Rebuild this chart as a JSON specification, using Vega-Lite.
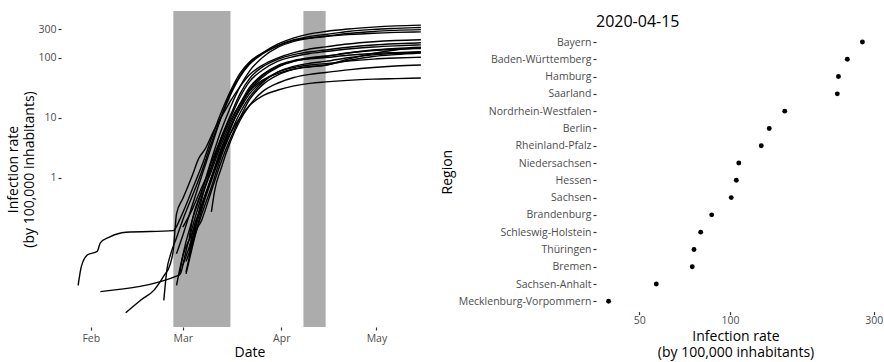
{
  "$schema": "https://vega.github.io/schema/vega-lite/v6.json",
  "background": "white",
  "padding": {"left": 6, "top": 11, "right": 2, "bottom": 2},
  "spacing": 2,
  "config": {
    "view": {"stroke": null},
    "font": "Open Sans",
    "title": {"fontSize": 16, "fontWeight": "normal", "color": "#000000"},
    "axis": {"grid": false, "domain": false, "tickColor": "#333333", "tickSize": 3, "tickWidth": 1.2, "labelColor": "#4d4d4d", "labelFontSize": 10.5, "titleFontSize": 14, "titleFontWeight": "normal", "titleColor": "#000000", "labelPadding": 2, "titlePadding": 4}
  },
  "datasets": {
    "periods": [
      {"date": "2020-02-27", "date2": "2020-03-16"},
      {"date": "2020-04-08", "date2": "2020-04-15"}
    ],
    "lines": [
      {"region": "Bayern", "date": "2020-01-28", "rate": 0.016},
      {"region": "Bayern", "date": "2020-01-29", "rate": 0.033},
      {"region": "Bayern", "date": "2020-01-31", "rate": 0.052},
      {"region": "Bayern", "date": "2020-02-03", "rate": 0.059},
      {"region": "Bayern", "date": "2020-02-04", "rate": 0.082},
      {"region": "Bayern", "date": "2020-02-07", "rate": 0.103},
      {"region": "Bayern", "date": "2020-02-12", "rate": 0.123},
      {"region": "Bayern", "date": "2020-02-27", "rate": 0.131},
      {"region": "Bayern", "date": "2020-02-29", "rate": 0.2},
      {"region": "Bayern", "date": "2020-03-02", "rate": 0.35},
      {"region": "Bayern", "date": "2020-03-04", "rate": 0.65},
      {"region": "Bayern", "date": "2020-03-07", "rate": 1.6},
      {"region": "Bayern", "date": "2020-03-10", "rate": 4.5},
      {"region": "Bayern", "date": "2020-03-13", "rate": 12},
      {"region": "Bayern", "date": "2020-03-16", "rate": 28},
      {"region": "Bayern", "date": "2020-03-19", "rate": 55},
      {"region": "Bayern", "date": "2020-03-22", "rate": 85},
      {"region": "Bayern", "date": "2020-03-26", "rate": 120},
      {"region": "Bayern", "date": "2020-03-31", "rate": 170},
      {"region": "Bayern", "date": "2020-04-05", "rate": 215},
      {"region": "Bayern", "date": "2020-04-10", "rate": 250},
      {"region": "Bayern", "date": "2020-04-15", "rate": 275},
      {"region": "Bayern", "date": "2020-04-22", "rate": 302},
      {"region": "Bayern", "date": "2020-04-30", "rate": 325},
      {"region": "Bayern", "date": "2020-05-07", "rate": 340},
      {"region": "Bayern", "date": "2020-05-15", "rate": 350},

      {"region": "Baden-Württemberg", "date": "2020-02-24", "rate": 0.009},
      {"region": "Baden-Württemberg", "date": "2020-02-25", "rate": 0.03},
      {"region": "Baden-Württemberg", "date": "2020-02-26", "rate": 0.05},
      {"region": "Baden-Württemberg", "date": "2020-02-28", "rate": 0.1},
      {"region": "Baden-Württemberg", "date": "2020-03-01", "rate": 0.2},
      {"region": "Baden-Württemberg", "date": "2020-03-04", "rate": 0.5},
      {"region": "Baden-Württemberg", "date": "2020-03-07", "rate": 1.3},
      {"region": "Baden-Württemberg", "date": "2020-03-10", "rate": 3.8},
      {"region": "Baden-Württemberg", "date": "2020-03-13", "rate": 10},
      {"region": "Baden-Württemberg", "date": "2020-03-16", "rate": 24},
      {"region": "Baden-Württemberg", "date": "2020-03-19", "rate": 48},
      {"region": "Baden-Württemberg", "date": "2020-03-22", "rate": 78},
      {"region": "Baden-Württemberg", "date": "2020-03-26", "rate": 115},
      {"region": "Baden-Württemberg", "date": "2020-03-31", "rate": 160},
      {"region": "Baden-Württemberg", "date": "2020-04-05", "rate": 200},
      {"region": "Baden-Württemberg", "date": "2020-04-10", "rate": 228},
      {"region": "Baden-Württemberg", "date": "2020-04-15", "rate": 245},
      {"region": "Baden-Württemberg", "date": "2020-04-22", "rate": 275},
      {"region": "Baden-Württemberg", "date": "2020-04-30", "rate": 298},
      {"region": "Baden-Württemberg", "date": "2020-05-07", "rate": 310},
      {"region": "Baden-Württemberg", "date": "2020-05-15", "rate": 320},

      {"region": "Hamburg", "date": "2020-02-28", "rate": 0.054},
      {"region": "Hamburg", "date": "2020-03-01", "rate": 0.11},
      {"region": "Hamburg", "date": "2020-03-04", "rate": 0.35},
      {"region": "Hamburg", "date": "2020-03-07", "rate": 1.1},
      {"region": "Hamburg", "date": "2020-03-10", "rate": 3.3},
      {"region": "Hamburg", "date": "2020-03-13", "rate": 10},
      {"region": "Hamburg", "date": "2020-03-16", "rate": 26},
      {"region": "Hamburg", "date": "2020-03-19", "rate": 50},
      {"region": "Hamburg", "date": "2020-03-22", "rate": 82},
      {"region": "Hamburg", "date": "2020-03-26", "rate": 118},
      {"region": "Hamburg", "date": "2020-03-31", "rate": 160},
      {"region": "Hamburg", "date": "2020-04-05", "rate": 195},
      {"region": "Hamburg", "date": "2020-04-10", "rate": 215},
      {"region": "Hamburg", "date": "2020-04-15", "rate": 229},
      {"region": "Hamburg", "date": "2020-04-22", "rate": 254},
      {"region": "Hamburg", "date": "2020-04-30", "rate": 275},
      {"region": "Hamburg", "date": "2020-05-07", "rate": 287},
      {"region": "Hamburg", "date": "2020-05-15", "rate": 295},

      {"region": "Saarland", "date": "2020-03-03", "rate": 0.1},
      {"region": "Saarland", "date": "2020-03-04", "rate": 0.2},
      {"region": "Saarland", "date": "2020-03-07", "rate": 0.6},
      {"region": "Saarland", "date": "2020-03-10", "rate": 2},
      {"region": "Saarland", "date": "2020-03-13", "rate": 6},
      {"region": "Saarland", "date": "2020-03-16", "rate": 15},
      {"region": "Saarland", "date": "2020-03-19", "rate": 33},
      {"region": "Saarland", "date": "2020-03-22", "rate": 60},
      {"region": "Saarland", "date": "2020-03-26", "rate": 100},
      {"region": "Saarland", "date": "2020-03-31", "rate": 150},
      {"region": "Saarland", "date": "2020-04-05", "rate": 188},
      {"region": "Saarland", "date": "2020-04-10", "rate": 212},
      {"region": "Saarland", "date": "2020-04-15", "rate": 227},
      {"region": "Saarland", "date": "2020-04-22", "rate": 243},
      {"region": "Saarland", "date": "2020-04-30", "rate": 257},
      {"region": "Saarland", "date": "2020-05-07", "rate": 265},
      {"region": "Saarland", "date": "2020-05-15", "rate": 270},

      {"region": "Nordrhein-Westfalen", "date": "2020-02-12", "rate": 0.0056},
      {"region": "Nordrhein-Westfalen", "date": "2020-02-17", "rate": 0.0093},
      {"region": "Nordrhein-Westfalen", "date": "2020-02-21", "rate": 0.0135},
      {"region": "Nordrhein-Westfalen", "date": "2020-02-24", "rate": 0.023},
      {"region": "Nordrhein-Westfalen", "date": "2020-02-26", "rate": 0.036},
      {"region": "Nordrhein-Westfalen", "date": "2020-02-27", "rate": 0.063},
      {"region": "Nordrhein-Westfalen", "date": "2020-02-28", "rate": 0.25},
      {"region": "Nordrhein-Westfalen", "date": "2020-03-01", "rate": 0.45},
      {"region": "Nordrhein-Westfalen", "date": "2020-03-02", "rate": 0.6},
      {"region": "Nordrhein-Westfalen", "date": "2020-03-04", "rate": 1.1},
      {"region": "Nordrhein-Westfalen", "date": "2020-03-06", "rate": 2.1},
      {"region": "Nordrhein-Westfalen", "date": "2020-03-08", "rate": 3.0},
      {"region": "Nordrhein-Westfalen", "date": "2020-03-11", "rate": 6.5},
      {"region": "Nordrhein-Westfalen", "date": "2020-03-13", "rate": 10},
      {"region": "Nordrhein-Westfalen", "date": "2020-03-16", "rate": 19},
      {"region": "Nordrhein-Westfalen", "date": "2020-03-19", "rate": 33},
      {"region": "Nordrhein-Westfalen", "date": "2020-03-22", "rate": 52},
      {"region": "Nordrhein-Westfalen", "date": "2020-03-26", "rate": 75},
      {"region": "Nordrhein-Westfalen", "date": "2020-03-31", "rate": 100},
      {"region": "Nordrhein-Westfalen", "date": "2020-04-05", "rate": 122},
      {"region": "Nordrhein-Westfalen", "date": "2020-04-10", "rate": 140},
      {"region": "Nordrhein-Westfalen", "date": "2020-04-15", "rate": 152},
      {"region": "Nordrhein-Westfalen", "date": "2020-04-22", "rate": 170},
      {"region": "Nordrhein-Westfalen", "date": "2020-04-30", "rate": 185},
      {"region": "Nordrhein-Westfalen", "date": "2020-05-07", "rate": 194},
      {"region": "Nordrhein-Westfalen", "date": "2020-05-15", "rate": 200},

      {"region": "Berlin", "date": "2020-03-02", "rate": 0.027},
      {"region": "Berlin", "date": "2020-03-04", "rate": 0.08},
      {"region": "Berlin", "date": "2020-03-07", "rate": 0.45},
      {"region": "Berlin", "date": "2020-03-10", "rate": 1.5},
      {"region": "Berlin", "date": "2020-03-13", "rate": 4.5},
      {"region": "Berlin", "date": "2020-03-16", "rate": 11},
      {"region": "Berlin", "date": "2020-03-19", "rate": 25},
      {"region": "Berlin", "date": "2020-03-22", "rate": 45},
      {"region": "Berlin", "date": "2020-03-26", "rate": 70},
      {"region": "Berlin", "date": "2020-03-31", "rate": 95},
      {"region": "Berlin", "date": "2020-04-05", "rate": 113},
      {"region": "Berlin", "date": "2020-04-10", "rate": 126},
      {"region": "Berlin", "date": "2020-04-15", "rate": 135},
      {"region": "Berlin", "date": "2020-04-22", "rate": 150},
      {"region": "Berlin", "date": "2020-04-30", "rate": 163},
      {"region": "Berlin", "date": "2020-05-07", "rate": 171},
      {"region": "Berlin", "date": "2020-05-15", "rate": 178},

      {"region": "Rheinland-Pfalz", "date": "2020-02-29", "rate": 0.025},
      {"region": "Rheinland-Pfalz", "date": "2020-03-01", "rate": 0.05},
      {"region": "Rheinland-Pfalz", "date": "2020-03-04", "rate": 0.2},
      {"region": "Rheinland-Pfalz", "date": "2020-03-07", "rate": 0.6},
      {"region": "Rheinland-Pfalz", "date": "2020-03-10", "rate": 1.8},
      {"region": "Rheinland-Pfalz", "date": "2020-03-13", "rate": 4.5},
      {"region": "Rheinland-Pfalz", "date": "2020-03-16", "rate": 10},
      {"region": "Rheinland-Pfalz", "date": "2020-03-19", "rate": 22},
      {"region": "Rheinland-Pfalz", "date": "2020-03-22", "rate": 40},
      {"region": "Rheinland-Pfalz", "date": "2020-03-26", "rate": 62},
      {"region": "Rheinland-Pfalz", "date": "2020-03-31", "rate": 88},
      {"region": "Rheinland-Pfalz", "date": "2020-04-05", "rate": 105},
      {"region": "Rheinland-Pfalz", "date": "2020-04-10", "rate": 118},
      {"region": "Rheinland-Pfalz", "date": "2020-04-15", "rate": 127},
      {"region": "Rheinland-Pfalz", "date": "2020-04-22", "rate": 140},
      {"region": "Rheinland-Pfalz", "date": "2020-04-30", "rate": 151},
      {"region": "Rheinland-Pfalz", "date": "2020-05-07", "rate": 158},
      {"region": "Rheinland-Pfalz", "date": "2020-05-15", "rate": 164},

      {"region": "Niedersachsen", "date": "2020-02-04", "rate": 0.0126},
      {"region": "Niedersachsen", "date": "2020-02-29", "rate": 0.024},
      {"region": "Niedersachsen", "date": "2020-03-02", "rate": 0.06},
      {"region": "Niedersachsen", "date": "2020-03-04", "rate": 0.15},
      {"region": "Niedersachsen", "date": "2020-03-07", "rate": 0.5},
      {"region": "Niedersachsen", "date": "2020-03-10", "rate": 1.3},
      {"region": "Niedersachsen", "date": "2020-03-13", "rate": 3.5},
      {"region": "Niedersachsen", "date": "2020-03-16", "rate": 8},
      {"region": "Niedersachsen", "date": "2020-03-19", "rate": 17},
      {"region": "Niedersachsen", "date": "2020-03-22", "rate": 32},
      {"region": "Niedersachsen", "date": "2020-03-26", "rate": 52},
      {"region": "Niedersachsen", "date": "2020-03-31", "rate": 75},
      {"region": "Niedersachsen", "date": "2020-04-05", "rate": 90},
      {"region": "Niedersachsen", "date": "2020-04-10", "rate": 100},
      {"region": "Niedersachsen", "date": "2020-04-15", "rate": 107},
      {"region": "Niedersachsen", "date": "2020-04-22", "rate": 120},
      {"region": "Niedersachsen", "date": "2020-04-30", "rate": 132},
      {"region": "Niedersachsen", "date": "2020-05-07", "rate": 138},
      {"region": "Niedersachsen", "date": "2020-05-15", "rate": 143},

      {"region": "Hessen", "date": "2020-02-28", "rate": 0.016},
      {"region": "Hessen", "date": "2020-03-01", "rate": 0.05},
      {"region": "Hessen", "date": "2020-03-04", "rate": 0.12},
      {"region": "Hessen", "date": "2020-03-07", "rate": 0.35},
      {"region": "Hessen", "date": "2020-03-10", "rate": 1.0},
      {"region": "Hessen", "date": "2020-03-13", "rate": 2.8},
      {"region": "Hessen", "date": "2020-03-16", "rate": 7},
      {"region": "Hessen", "date": "2020-03-19", "rate": 15},
      {"region": "Hessen", "date": "2020-03-22", "rate": 28},
      {"region": "Hessen", "date": "2020-03-26", "rate": 47},
      {"region": "Hessen", "date": "2020-03-31", "rate": 70},
      {"region": "Hessen", "date": "2020-04-05", "rate": 87},
      {"region": "Hessen", "date": "2020-04-10", "rate": 98},
      {"region": "Hessen", "date": "2020-04-15", "rate": 105},
      {"region": "Hessen", "date": "2020-04-22", "rate": 120},
      {"region": "Hessen", "date": "2020-04-30", "rate": 135},
      {"region": "Hessen", "date": "2020-05-07", "rate": 143},
      {"region": "Hessen", "date": "2020-05-15", "rate": 150},

      {"region": "Sachsen", "date": "2020-03-02", "rate": 0.025},
      {"region": "Sachsen", "date": "2020-03-04", "rate": 0.07},
      {"region": "Sachsen", "date": "2020-03-07", "rate": 0.3},
      {"region": "Sachsen", "date": "2020-03-10", "rate": 0.9},
      {"region": "Sachsen", "date": "2020-03-13", "rate": 2.5},
      {"region": "Sachsen", "date": "2020-03-16", "rate": 6.5},
      {"region": "Sachsen", "date": "2020-03-19", "rate": 15},
      {"region": "Sachsen", "date": "2020-03-22", "rate": 30},
      {"region": "Sachsen", "date": "2020-03-26", "rate": 50},
      {"region": "Sachsen", "date": "2020-03-31", "rate": 72},
      {"region": "Sachsen", "date": "2020-04-05", "rate": 88},
      {"region": "Sachsen", "date": "2020-04-10", "rate": 96},
      {"region": "Sachsen", "date": "2020-04-15", "rate": 101},
      {"region": "Sachsen", "date": "2020-04-22", "rate": 110},
      {"region": "Sachsen", "date": "2020-04-30", "rate": 118},
      {"region": "Sachsen", "date": "2020-05-07", "rate": 122},
      {"region": "Sachsen", "date": "2020-05-15", "rate": 126},

      {"region": "Brandenburg", "date": "2020-03-02", "rate": 0.04},
      {"region": "Brandenburg", "date": "2020-03-04", "rate": 0.08},
      {"region": "Brandenburg", "date": "2020-03-07", "rate": 0.25},
      {"region": "Brandenburg", "date": "2020-03-10", "rate": 0.7},
      {"region": "Brandenburg", "date": "2020-03-13", "rate": 2.2},
      {"region": "Brandenburg", "date": "2020-03-16", "rate": 5.5},
      {"region": "Brandenburg", "date": "2020-03-19", "rate": 12},
      {"region": "Brandenburg", "date": "2020-03-22", "rate": 22},
      {"region": "Brandenburg", "date": "2020-03-26", "rate": 38},
      {"region": "Brandenburg", "date": "2020-03-31", "rate": 58},
      {"region": "Brandenburg", "date": "2020-04-05", "rate": 72},
      {"region": "Brandenburg", "date": "2020-04-10", "rate": 81},
      {"region": "Brandenburg", "date": "2020-04-15", "rate": 87},
      {"region": "Brandenburg", "date": "2020-04-22", "rate": 100},
      {"region": "Brandenburg", "date": "2020-04-30", "rate": 112},
      {"region": "Brandenburg", "date": "2020-05-07", "rate": 118},
      {"region": "Brandenburg", "date": "2020-05-15", "rate": 124},

      {"region": "Schleswig-Holstein", "date": "2020-03-01", "rate": 0.035},
      {"region": "Schleswig-Holstein", "date": "2020-03-04", "rate": 0.1},
      {"region": "Schleswig-Holstein", "date": "2020-03-07", "rate": 0.35},
      {"region": "Schleswig-Holstein", "date": "2020-03-10", "rate": 1.0},
      {"region": "Schleswig-Holstein", "date": "2020-03-13", "rate": 3},
      {"region": "Schleswig-Holstein", "date": "2020-03-16", "rate": 7},
      {"region": "Schleswig-Holstein", "date": "2020-03-19", "rate": 14},
      {"region": "Schleswig-Holstein", "date": "2020-03-22", "rate": 25},
      {"region": "Schleswig-Holstein", "date": "2020-03-26", "rate": 40},
      {"region": "Schleswig-Holstein", "date": "2020-03-31", "rate": 58},
      {"region": "Schleswig-Holstein", "date": "2020-04-05", "rate": 69},
      {"region": "Schleswig-Holstein", "date": "2020-04-10", "rate": 76},
      {"region": "Schleswig-Holstein", "date": "2020-04-15", "rate": 80},
      {"region": "Schleswig-Holstein", "date": "2020-04-22", "rate": 88},
      {"region": "Schleswig-Holstein", "date": "2020-04-30", "rate": 95},
      {"region": "Schleswig-Holstein", "date": "2020-05-07", "rate": 99},
      {"region": "Schleswig-Holstein", "date": "2020-05-15", "rate": 102},

      {"region": "Thüringen", "date": "2020-03-03", "rate": 0.047},
      {"region": "Thüringen", "date": "2020-03-04", "rate": 0.09},
      {"region": "Thüringen", "date": "2020-03-07", "rate": 0.2},
      {"region": "Thüringen", "date": "2020-03-10", "rate": 0.6},
      {"region": "Thüringen", "date": "2020-03-13", "rate": 1.8},
      {"region": "Thüringen", "date": "2020-03-16", "rate": 4.5},
      {"region": "Thüringen", "date": "2020-03-19", "rate": 10},
      {"region": "Thüringen", "date": "2020-03-22", "rate": 20},
      {"region": "Thüringen", "date": "2020-03-26", "rate": 35},
      {"region": "Thüringen", "date": "2020-03-31", "rate": 52},
      {"region": "Thüringen", "date": "2020-04-05", "rate": 64},
      {"region": "Thüringen", "date": "2020-04-10", "rate": 71},
      {"region": "Thüringen", "date": "2020-04-15", "rate": 76},
      {"region": "Thüringen", "date": "2020-04-22", "rate": 90},
      {"region": "Thüringen", "date": "2020-04-30", "rate": 105},
      {"region": "Thüringen", "date": "2020-05-07", "rate": 113},
      {"region": "Thüringen", "date": "2020-05-15", "rate": 120},

      {"region": "Bremen", "date": "2020-03-01", "rate": 0.15},
      {"region": "Bremen", "date": "2020-03-04", "rate": 0.3},
      {"region": "Bremen", "date": "2020-03-07", "rate": 0.7},
      {"region": "Bremen", "date": "2020-03-10", "rate": 1.5},
      {"region": "Bremen", "date": "2020-03-13", "rate": 4},
      {"region": "Bremen", "date": "2020-03-16", "rate": 9},
      {"region": "Bremen", "date": "2020-03-19", "rate": 17},
      {"region": "Bremen", "date": "2020-03-22", "rate": 28},
      {"region": "Bremen", "date": "2020-03-26", "rate": 42},
      {"region": "Bremen", "date": "2020-03-31", "rate": 55},
      {"region": "Bremen", "date": "2020-04-05", "rate": 65},
      {"region": "Bremen", "date": "2020-04-10", "rate": 71},
      {"region": "Bremen", "date": "2020-04-15", "rate": 75},
      {"region": "Bremen", "date": "2020-04-22", "rate": 95},
      {"region": "Bremen", "date": "2020-04-30", "rate": 118},
      {"region": "Bremen", "date": "2020-05-07", "rate": 135},
      {"region": "Bremen", "date": "2020-05-15", "rate": 148},

      {"region": "Sachsen-Anhalt", "date": "2020-03-10", "rate": 0.27},
      {"region": "Sachsen-Anhalt", "date": "2020-03-11", "rate": 0.6},
      {"region": "Sachsen-Anhalt", "date": "2020-03-13", "rate": 1.4},
      {"region": "Sachsen-Anhalt", "date": "2020-03-16", "rate": 4},
      {"region": "Sachsen-Anhalt", "date": "2020-03-19", "rate": 9},
      {"region": "Sachsen-Anhalt", "date": "2020-03-22", "rate": 16},
      {"region": "Sachsen-Anhalt", "date": "2020-03-26", "rate": 27},
      {"region": "Sachsen-Anhalt", "date": "2020-03-31", "rate": 38},
      {"region": "Sachsen-Anhalt", "date": "2020-04-05", "rate": 47},
      {"region": "Sachsen-Anhalt", "date": "2020-04-10", "rate": 53},
      {"region": "Sachsen-Anhalt", "date": "2020-04-15", "rate": 57},
      {"region": "Sachsen-Anhalt", "date": "2020-04-22", "rate": 63},
      {"region": "Sachsen-Anhalt", "date": "2020-04-30", "rate": 69},
      {"region": "Sachsen-Anhalt", "date": "2020-05-07", "rate": 73},
      {"region": "Sachsen-Anhalt", "date": "2020-05-15", "rate": 76},

      {"region": "Mecklenburg-Vorpommern", "date": "2020-03-03", "rate": 0.062},
      {"region": "Mecklenburg-Vorpommern", "date": "2020-03-04", "rate": 0.12},
      {"region": "Mecklenburg-Vorpommern", "date": "2020-03-07", "rate": 0.35},
      {"region": "Mecklenburg-Vorpommern", "date": "2020-03-10", "rate": 1.0},
      {"region": "Mecklenburg-Vorpommern", "date": "2020-03-13", "rate": 2.5},
      {"region": "Mecklenburg-Vorpommern", "date": "2020-03-16", "rate": 5.5},
      {"region": "Mecklenburg-Vorpommern", "date": "2020-03-19", "rate": 10},
      {"region": "Mecklenburg-Vorpommern", "date": "2020-03-22", "rate": 16},
      {"region": "Mecklenburg-Vorpommern", "date": "2020-03-26", "rate": 23},
      {"region": "Mecklenburg-Vorpommern", "date": "2020-03-31", "rate": 29},
      {"region": "Mecklenburg-Vorpommern", "date": "2020-04-05", "rate": 34},
      {"region": "Mecklenburg-Vorpommern", "date": "2020-04-10", "rate": 37.5},
      {"region": "Mecklenburg-Vorpommern", "date": "2020-04-15", "rate": 39.6},
      {"region": "Mecklenburg-Vorpommern", "date": "2020-04-22", "rate": 42},
      {"region": "Mecklenburg-Vorpommern", "date": "2020-04-30", "rate": 44},
      {"region": "Mecklenburg-Vorpommern", "date": "2020-05-07", "rate": 45},
      {"region": "Mecklenburg-Vorpommern", "date": "2020-05-15", "rate": 46}
    ],
    "dots": [
      {"region": "Bayern", "rate": 275},
      {"region": "Baden-Württemberg", "rate": 245},
      {"region": "Hamburg", "rate": 229},
      {"region": "Saarland", "rate": 227},
      {"region": "Nordrhein-Westfalen", "rate": 152},
      {"region": "Berlin", "rate": 135},
      {"region": "Rheinland-Pfalz", "rate": 127},
      {"region": "Niedersachsen", "rate": 107},
      {"region": "Hessen", "rate": 105},
      {"region": "Sachsen", "rate": 101},
      {"region": "Brandenburg", "rate": 87},
      {"region": "Schleswig-Holstein", "rate": 80},
      {"region": "Thüringen", "rate": 76},
      {"region": "Bremen", "rate": 75},
      {"region": "Sachsen-Anhalt", "rate": 57},
      {"region": "Mecklenburg-Vorpommern", "rate": 39.6}
    ]
  },
  "hconcat": [
    {
      "width": 377,
      "height": 316,
      "layer": [
        {
          "data": {"name": "periods"},
          "mark": {"type": "rect", "color": "#acacac"},
          "encoding": {
            "x": {"field": "date", "type": "temporal", "title": "Date"},
            "x2": {"field": "date2"}
          }
        },
        {
          "data": {"name": "lines"},
          "mark": {"type": "line", "color": "black", "strokeWidth": 1.4, "interpolate": "monotone"},
          "encoding": {
            "x": {
              "field": "date", "type": "temporal", "title": "Date",
              "scale": {"type": "utc", "domain": [{"year": 2020, "month": 1, "date": 22, "hours": 14, "minutes": 24, "utc": true}, {"year": 2020, "month": 5, "date": 20, "hours": 9, "minutes": 36, "utc": true}]},
              "axis": {"values": [{"year": 2020, "month": 2, "date": 1, "utc": true}, {"year": 2020, "month": 3, "date": 1, "utc": true}, {"year": 2020, "month": 4, "date": 1, "utc": true}, {"year": 2020, "month": 5, "date": 1, "utc": true}], "labelExpr": "utcFormat(datum.value, '%b')", "labelPadding": 3, "titlePadding": 2}
            },
            "y": {
              "field": "rate", "type": "quantitative",
              "scale": {"type": "log", "domain": [0.00324, 603], "nice": false},
              "axis": {"values": [1, 10, 100, 300], "format": "d", "title": ["Infection rate", "(by 100,000 inhabitants)"], "titlePadding": 1}
            },
            "detail": {"field": "region", "type": "nominal"}
          }
        }
      ]
    },
    {
      "width": 279,
      "height": 300.6,
      "title": {"text": "2020-04-15", "anchor": "start", "frame": "group", "fontSize": 16, "fontWeight": "normal", "offset": -19},
      "data": {"name": "dots"},
      "mark": {"type": "circle", "size": 24, "color": "black", "opacity": 1},
      "encoding": {
        "x": {
          "field": "rate", "type": "quantitative",
          "scale": {"type": "log", "domain": [35.97, 302.7], "nice": false},
          "axis": {"values": [50, 100, 300], "format": "d", "title": ["Infection rate", "(by 100,000 inhabitants)"], "labelPadding": 1, "titlePadding": 3}
        },
        "y": {
          "field": "region", "type": "nominal",
          "sort": ["Bayern", "Baden-Württemberg", "Hamburg", "Saarland", "Nordrhein-Westfalen", "Berlin", "Rheinland-Pfalz", "Niedersachsen", "Hessen", "Sachsen", "Brandenburg", "Schleswig-Holstein", "Thüringen", "Bremen", "Sachsen-Anhalt", "Mecklenburg-Vorpommern"],
          "scale": {"type": "point", "range": [31, 290.3], "padding": 0},
          "title": "Region"
        }
      }
    }
  ]
}
